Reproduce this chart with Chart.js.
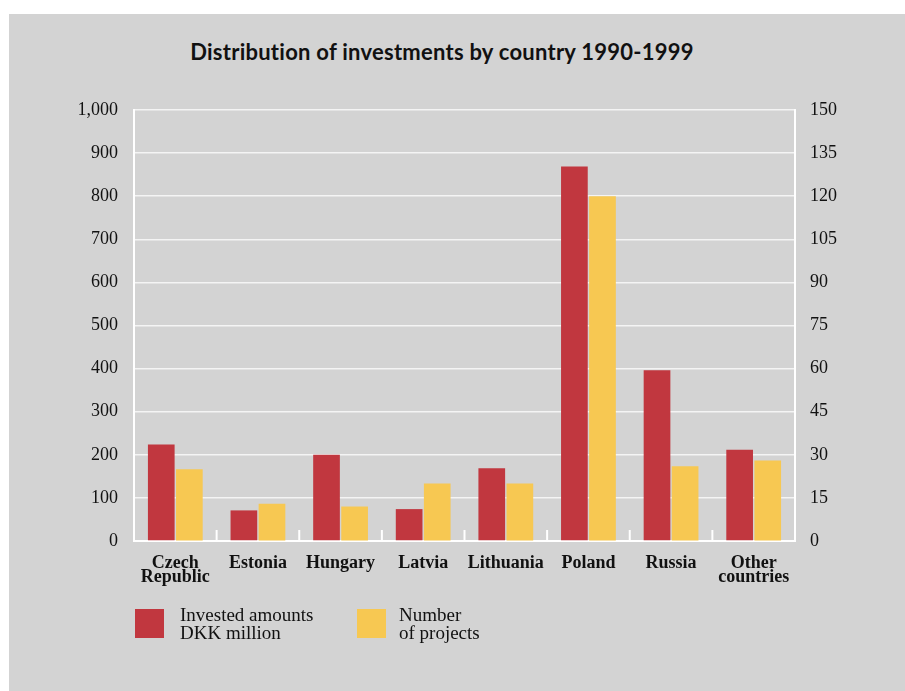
<!DOCTYPE html>
<html>
<head>
<meta charset="utf-8">
<script src="https://cdn.jsdelivr.net/npm/chart.js@4.4.1/dist/chart.umd.min.js"></script>
<style>
  html, body { margin: 0; padding: 0; background: #fff; }
  #wrap { position: relative; width: 905px; height: 691px; overflow: hidden; }
  #panel { position: absolute; left: 9px; top: 14px; right: 0; bottom: 0; background: #d3d3d3; }
  #title { position: absolute; left: 0; top: 37px; width: 884px; text-align: center;
           font: bold 22px Lato, sans-serif; letter-spacing: 0.25px; line-height: 30px; color: #111; }
  #box { position: absolute; left: 0; top: 0; width: 905px; height: 691px; }
  .leg { position: absolute; top: 609px; width: 29px; height: 29px; }
  .legtxt { position: absolute; top: 606px; font: 19px "Liberation Serif", serif; line-height: 18px; color: #111; }
</style>
</head>
<body>
<div id="wrap">
  <div id="panel"></div>
  <div id="title">Distribution of investments by country 1990-1999</div>
  <div id="box"><canvas id="myChart"></canvas></div>
  <div class="leg" style="left:135px;background:#c1373f"></div>
  <div class="legtxt" style="left:180px">Invested amounts<br>DKK million</div>
  <div class="leg" style="left:357px;background:#f7c852"></div>
  <div class="legtxt" style="left:399px">Number<br>of projects</div>
</div>
<script>
// Daten
const laender = [['Czech', 'Republic'], 'Estonia', 'Hungary', 'Latvia', 'Lithuania', 'Poland', 'Russia', ['Other', 'countries']];
const betraege = [224, 71, 200, 74, 169, 869, 396, 212];   // DKK million
const projekte = [25, 13, 12, 20, 20, 120, 26, 28];         // number of projects

const rot = '#c1373f';
const gelb = '#f7c852';

// kleine Striche zwischen den Kategorien (nach oben)
const kategorieStriche = {
  id: 'kategorieStriche',
  afterDatasetsDraw(chart) {
    const x = chart.scales.x;
    const ctx = chart.ctx;
    const bottom = chart.chartArea.bottom;
    ctx.save();
    ctx.strokeStyle = '#fff';
    ctx.lineWidth = 2;
    for (let i = 1; i < laender.length; i++) {
      const px = (x.getPixelForTick(i - 1) + x.getPixelForTick(i)) / 2;
      ctx.beginPath();
      ctx.moveTo(px, bottom);
      ctx.lineTo(px, bottom - 11);
      ctx.stroke();
    }
    ctx.restore();
  }
};

const data = {
  labels: laender,
  datasets: [
    {
      label: 'Invested amounts DKK million',
      data: betraege,
      backgroundColor: rot,
      yAxisID: 'y'
    }, {
      label: 'Number of projects',
      data: projekte,
      backgroundColor: gelb,
      yAxisID: 'y1'
    }
  ]
};

const config = {
  type: 'bar',
  data: data,
  options: {
    responsive: true,
    maintainAspectRatio: false,
    animation: false,
    categoryPercentage: 0.68,
    barPercentage: 0.95,
    layout: {
      padding: { left: 60, right: 0, top: 110, bottom: 0 }
    },
    plugins: {
      legend: { display: false },
      tooltip: { enabled: false }
    },
    scales: {
      x: {
        grid: { display: false },
        border: { display: true, color: '#fff', width: 2 },
        ticks: {
          color: '#111',
          padding: 7,
          maxRotation: 0,
          font: { family: 'Liberation Serif', size: 18, weight: 'bold', lineHeight: 0.8 }
        },
        afterFit(scale) { scale.height = 150; }
      },
      y: {
        position: 'left',
        min: 0,
        max: 1000,
        grid: { color: '#f4f4f4', lineWidth: 1.5, drawTicks: false },
        border: { display: true, color: '#fff', width: 2 },
        ticks: {
          stepSize: 100,
          color: '#111',
          padding: 16,
          font: { family: 'Liberation Serif', size: 18 },
          callback: v => v.toLocaleString('en-US')
        },
        afterFit(scale) { scale.width = 74; }
      },
      y1: {
        position: 'right',
        min: 0,
        max: 150,
        grid: { drawOnChartArea: false, drawTicks: false },
        border: { display: true, color: '#fff', width: 2 },
        ticks: {
          stepSize: 15,
          color: '#111',
          padding: 15,
          font: { family: 'Liberation Serif', size: 18 }
        },
        afterFit(scale) { scale.width = 110; }
      }
    }
  },
  plugins: [kategorieStriche]
};

const chart = new Chart(document.querySelector('#myChart'), config);
</script>
</body>
</html>
